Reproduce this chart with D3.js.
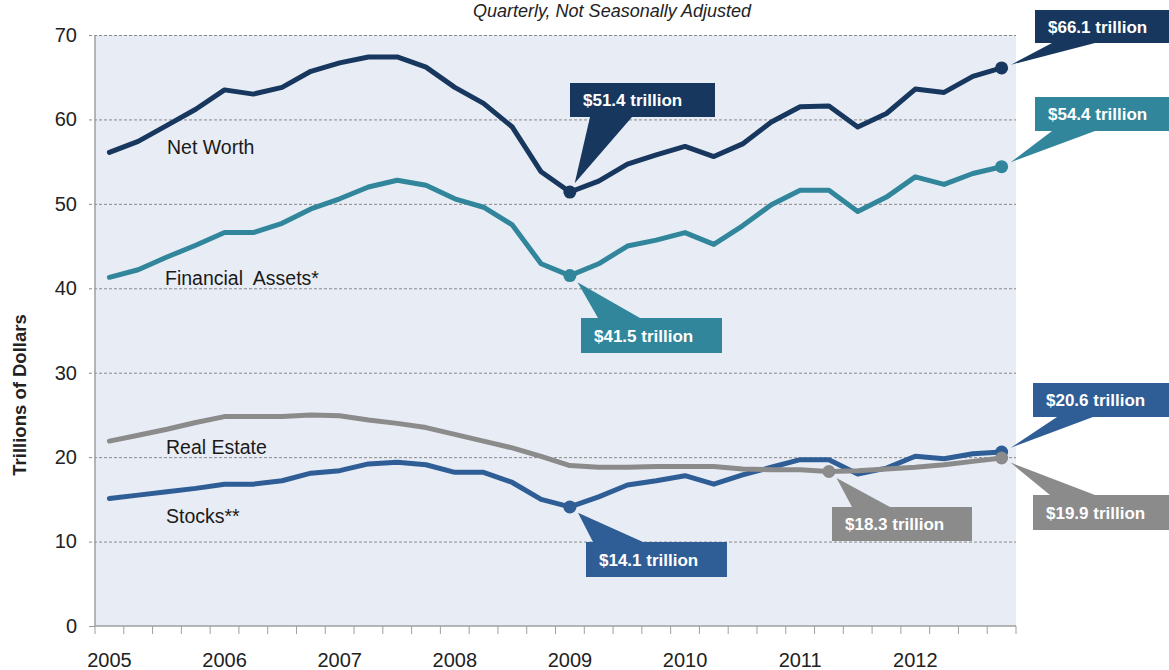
<!DOCTYPE html>
<html>
<head>
<meta charset="utf-8">
<script src="https://cdn.jsdelivr.net/npm/d3@7/dist/d3.min.js"></script>
<style>
  html, body { margin: 0; padding: 0; background: #fff; }
  svg { display: block; font-family: "Liberation Sans", Arial, sans-serif; }
</style>
</head>
<body>
<svg id="chart" width="1169" height="670"></svg>
<script>
// Household balance sheet, trillions of dollars, quarterly 2005Q1–2012Q4
const years = [2005, 2006, 2007, 2008, 2009, 2010, 2011, 2012];
const quarterNames = ["Q1", "Q2", "Q3", "Q4"];
const yTicks = [0, 10, 20, 30, 40, 50, 60, 70];

const netWorth = [56.1, 57.4, 59.3, 61.2, 63.5, 63.0, 63.8, 65.7,
                  66.7, 67.4, 67.4, 66.2, 63.8, 61.9, 59.1, 53.8,
                  51.4, 52.7, 54.7, 55.8, 56.8, 55.6, 57.1, 59.7,
                  61.5, 61.6, 59.1, 60.7, 63.6, 63.2, 65.1, 66.1];
const financialAssets = [41.3, 42.2, 43.7, 45.1, 46.6, 46.6, 47.7, 49.4,
                         50.6, 52.0, 52.8, 52.2, 50.6, 49.6, 47.5, 42.9,
                         41.5, 42.9, 45.0, 45.7, 46.6, 45.2, 47.4, 49.9,
                         51.6, 51.6, 49.1, 50.8, 53.2, 52.3, 53.6, 54.4];
const realEstate = [21.9, 22.6, 23.3, 24.1, 24.8, 24.8, 24.8, 25.0,
                    24.9, 24.4, 24.0, 23.5, 22.7, 21.9, 21.1, 20.1,
                    19.0, 18.8, 18.8, 18.9, 18.9, 18.9, 18.6, 18.5,
                    18.5, 18.3, 18.4, 18.6, 18.8, 19.1, 19.5, 19.9];
const stocks = [15.1, 15.5, 15.9, 16.3, 16.8, 16.8, 17.2, 18.1,
                18.4, 19.2, 19.4, 19.1, 18.2, 18.2, 17.0, 15.0,
                14.1, 15.3, 16.7, 17.2, 17.8, 16.8, 17.9, 18.8,
                19.7, 19.7, 18.0, 18.7, 20.1, 19.8, 20.4, 20.6];

const quarters = years.flatMap(y => quarterNames.map(q => y + q));

const seriesList = [
  { key: "netWorth",  name: "Net Worth",          values: netWorth,        color: "#17375e", label: [167, 154] },
  { key: "financial", name: "Financial  Assets*", values: financialAssets, color: "#31869b", label: [165, 285] },
  { key: "stocks",    name: "Stocks**",           values: stocks,          color: "#2f5d96", label: [166, 523] },
  { key: "realEstate",name: "Real Estate",        values: realEstate,      color: "#8b8b8b", label: [166, 454] }
];
const byKey = Object.fromEntries(seriesList.map(s => [s.key, s]));

// Value callouts: which point, where the box sits, and where the pointer meets it
const callouts = [
  { key: "netWorth",   q: "2012Q4", box: [1035, 10, 140, 33],  base: [1052, 1095], edge: "bottom" },
  { key: "financial",  q: "2012Q4", box: [1035, 97, 140, 34],  base: [1052, 1095], edge: "bottom" },
  { key: "netWorth",   q: "2009Q1", box: [570, 83, 145, 34],   base: [590, 632],   edge: "bottom" },
  { key: "financial",  q: "2009Q1", box: [581, 318, 141, 35],  base: [598, 640],   edge: "top" },
  { key: "stocks",     q: "2012Q4", box: [1033, 383, 140, 34], base: [1057, 1093], edge: "bottom" },
  { key: "realEstate", q: "2012Q4", box: [1033, 495, 140, 35], base: [1050, 1095], edge: "top" },
  { key: "realEstate", q: "2011Q2", box: [832, 507, 140, 34],  base: [852, 890],   edge: "top" },
  { key: "stocks",     q: "2009Q1", box: [586, 542, 141, 35],  base: [593, 643],   edge: "top" }
];

const svg = d3.select("#chart");
const plot = { left: 95, right: 1016, top: 35, bottom: 626 };

const x = d3.scaleBand().domain(quarters).range([plot.left, plot.right]).paddingInner(0).paddingOuter(0);
const cx = q => x(q) + x.bandwidth() / 2;
const y = d3.scaleLinear().domain([0, 70]).range([plot.bottom, plot.top]);

// subtitle along the top edge
svg.append("text")
  .attr("x", 612).attr("y", 17)
  .attr("text-anchor", "middle")
  .attr("font-size", 18).attr("font-style", "italic").attr("fill", "#222")
  .text("Quarterly, Not Seasonally Adjusted");

// plot background
svg.append("rect")
  .attr("x", plot.left).attr("y", plot.top)
  .attr("width", plot.right - plot.left).attr("height", plot.bottom - plot.top)
  .attr("fill", "#e8ecf4");

// y axis with dashed gridlines
const yAxis = svg.append("g")
  .attr("transform", `translate(${plot.left},0)`)
  .call(d3.axisLeft(y).tickValues(yTicks).tickSize(0).tickPadding(18));
yAxis.select(".domain").remove();
yAxis.selectAll(".tick text").attr("font-size", 20).attr("fill", "#222")
  .attr("font-family", "Liberation Sans, Arial, sans-serif");
yAxis.selectAll(".tick").filter(d => d > 0).append("line")
  .attr("x1", -6).attr("x2", plot.right - plot.left)
  .attr("stroke", "#8a8a8a").attr("stroke-width", 1).attr("stroke-dasharray", "3,2");
yAxis.selectAll(".tick").filter(d => d === 0).append("line")
  .attr("x1", -6).attr("x2", 0).attr("stroke", "#999");

svg.append("line")
  .attr("x1", plot.left).attr("x2", plot.left)
  .attr("y1", plot.top).attr("y2", plot.bottom)
  .attr("stroke", "#a0a0a0").attr("stroke-width", 1.5);

// x axis baseline and quarterly boundary ticks
svg.append("line")
  .attr("x1", plot.left).attr("x2", plot.right)
  .attr("y1", plot.bottom).attr("y2", plot.bottom)
  .attr("stroke", "#a0a0a0").attr("stroke-width", 1.5);
const boundaries = quarters.map(q => x(q)).concat([plot.right]);
svg.append("g").selectAll("line").data(boundaries).join("line")
  .attr("x1", d => d).attr("x2", d => d)
  .attr("y1", plot.bottom).attr("y2", plot.bottom + 8)
  .attr("stroke", "#a0a0a0").attr("stroke-width", 1);

svg.append("g").selectAll("text").data(years).join("text")
  .attr("x", d => cx(d + "Q1"))
  .attr("y", 667)
  .attr("text-anchor", "middle")
  .attr("font-size", 20).attr("fill", "#222")
  .text(d => d);

// y axis title
svg.append("text")
  .attr("transform", "translate(26,395) rotate(-90)")
  .attr("text-anchor", "middle")
  .attr("font-size", 18.5).attr("font-weight", "bold").attr("fill", "#222")
  .text("Trillions of Dollars");

// series lines
const line = d3.line()
  .x((d, i) => cx(quarters[i]))
  .y(d => y(d));

svg.append("g").selectAll("path").data(seriesList).join("path")
  .attr("d", s => line(s.values))
  .attr("fill", "none")
  .attr("stroke", s => s.color)
  .attr("stroke-width", 5)
  .attr("stroke-linejoin", "round")
  .attr("stroke-linecap", "round");

// series names
svg.append("g").selectAll("text").data(seriesList).join("text")
  .attr("x", s => s.label[0]).attr("y", s => s.label[1])
  .attr("font-size", 19.5).attr("fill", "#1a1a1a")
  .attr("xml:space", "preserve")
  .style("white-space", "pre")
  .text(s => s.name);

// callouts with pointer and highlighted point
const cg = svg.append("g");
callouts.forEach(c => {
  const s = byKey[c.key];
  const i = quarters.indexOf(c.q);
  const v = s.values[i];
  const px = cx(c.q), py = y(v);
  const [bx, by, bw, bh] = c.box;
  const edgeY = c.edge === "bottom" ? by + bh : by;
  const mx = (c.base[0] + c.base[1]) / 2;
  const dx = mx - px, dy = edgeY - py, len = Math.hypot(dx, dy);
  const tx = px + dx / len * 10, ty = py + dy / len * 10;

  cg.append("path")
    .attr("d", `M${tx},${ty}L${c.base[0]},${edgeY}L${c.base[1]},${edgeY}Z`)
    .attr("fill", s.color);
  cg.append("rect")
    .attr("x", bx).attr("y", by).attr("width", bw).attr("height", bh)
    .attr("fill", s.color);
  cg.append("text")
    .attr("x", bx + 13).attr("y", by + bh / 2 + 6)
    .attr("font-size", 17).attr("font-weight", "bold").attr("fill", "#fff")
    .text(`$${v.toFixed(1)} trillion`);
  cg.append("circle")
    .attr("cx", px).attr("cy", py).attr("r", 6.5)
    .attr("fill", s.color);
});
</script>
</body>
</html>
